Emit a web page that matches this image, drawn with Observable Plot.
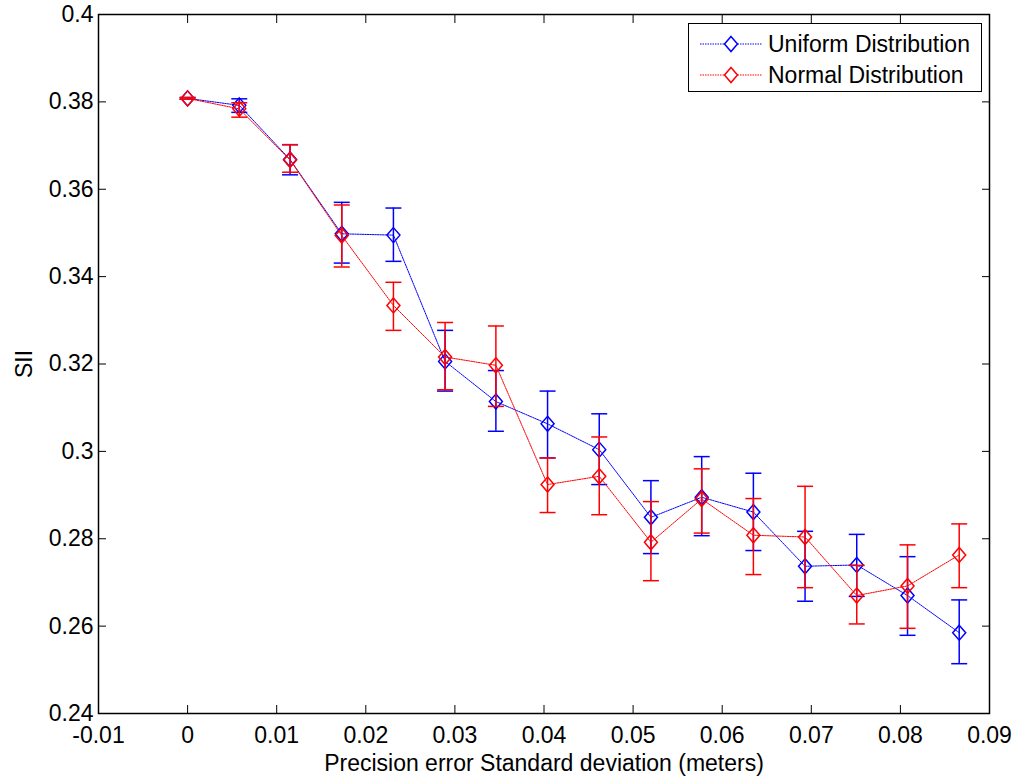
<!DOCTYPE html>
<html>
<head>
<meta charset="utf-8">
<script src="https://cdn.jsdelivr.net/npm/d3@7"></script>
<script src="https://cdn.jsdelivr.net/npm/@observablehq/plot@0.6"></script>
<style>
  html, body { margin: 0; padding: 0; background: #fff; }
  #wrap { position: relative; width: 1019px; height: 778px; }
  #legend {
    position: absolute; left: 688px; top: 23px; width: 292px; height: 67px;
    border: 1.5px solid #000; background: #fff;
    font-family: "Liberation Sans", Arial, Helvetica, sans-serif; font-size: 23px; color: #000;
  }
  #legend .row { position: absolute; left: 11px; height: 30px; display: flex; align-items: center; }
  #legend svg { display: block; margin-right: 6px; }
</style>
</head>
<body>
<div id="wrap"></div>
<script>
// ---- data ----
const xValues = [0, 0.0058, 0.0115, 0.0173, 0.0231, 0.0289, 0.0346, 0.0404, 0.0462, 0.0520, 0.0577, 0.0635, 0.0693, 0.0751, 0.0808, 0.0866];

const uniformMean = [0.3808, 0.3792, 0.3668, 0.3498, 0.3495, 0.3206, 0.3114, 0.3063, 0.3004, 0.2849, 0.2895, 0.2861, 0.2737, 0.2740, 0.2670, 0.2585];
const uniformLow  = [0.3806, 0.3776, 0.3633, 0.3431, 0.3435, 0.3138, 0.3046, 0.2985, 0.2924, 0.2766, 0.2807, 0.2773, 0.2657, 0.2668, 0.2579, 0.2514];
const uniformHigh = [0.3810, 0.3807, 0.3702, 0.3570, 0.3557, 0.3277, 0.3185, 0.3138, 0.3086, 0.2933, 0.2988, 0.2950, 0.2817, 0.2810, 0.2759, 0.2660];

const normalMean = [0.3808, 0.3784, 0.3667, 0.3494, 0.3334, 0.3216, 0.3197, 0.2924, 0.2943, 0.2792, 0.2891, 0.2808, 0.2804, 0.2670, 0.2692, 0.2763];
const normalLow  = [0.3806, 0.3765, 0.3639, 0.3422, 0.3277, 0.3141, 0.3103, 0.2860, 0.2855, 0.2704, 0.2813, 0.2718, 0.2688, 0.2605, 0.2595, 0.2688];
const normalHigh = [0.3810, 0.3798, 0.3702, 0.3564, 0.3387, 0.3295, 0.3287, 0.2985, 0.3033, 0.2885, 0.2960, 0.2892, 0.2920, 0.2739, 0.2786, 0.2834];

const seriesNames = ["Uniform Distribution", "Normal Distribution"];
const seriesColors = ["#0000ff", "#ff0000"];

const xTicks = [-0.01, 0, 0.01, 0.02, 0.03, 0.04, 0.05, 0.06, 0.07, 0.08, 0.09];
const xTickLabels = ["-0.01", "0", "0.01", "0.02", "0.03", "0.04", "0.05", "0.06", "0.07", "0.08", "0.09"];
const yTicks = [0.24, 0.26, 0.28, 0.30, 0.32, 0.34, 0.36, 0.38, 0.40];
const yTickLabels = ["0.24", "0.26", "0.28", "0.3", "0.32", "0.34", "0.36", "0.38", "0.4"];

const xLabel = "Precision error Standard deviation (meters)";
const yLabel = "SII";

// ---- build tables ----
function rows(mean, low, high) {
  return xValues.map((x, i) => ({x, y: mean[i], lo: low[i], hi: high[i]}));
}
const uniform = rows(uniformMean, uniformLow, uniformHigh);
const normal = rows(normalMean, normalLow, normalHigh);

const xLab = new Map(xTicks.map((t, i) => [t, xTickLabels[i]]));
const yLab = new Map(yTicks.map((t, i) => [t, yTickLabels[i]]));

const diamond = {draw(ctx) { ctx.moveTo(0, -7.5); ctx.lineTo(6.5, 0); ctx.lineTo(0, 7.5); ctx.lineTo(-6.5, 0); ctx.closePath(); }};
const cap = {draw(ctx) { ctx.moveTo(-8, 0); ctx.lineTo(8, 0); }};

function seriesMarks(data, color) {
  return [
    Plot.ruleX(data, {x: "x", y1: "lo", y2: "hi", stroke: color, strokeWidth: 1.5}),
    Plot.dot(data, {x: "x", y: "lo", symbol: cap, r: 8, stroke: color, fill: "none", strokeWidth: 1.5}),
    Plot.dot(data, {x: "x", y: "hi", symbol: cap, r: 8, stroke: color, fill: "none", strokeWidth: 1.5}),
    Plot.line(data, {x: "x", y: "y", stroke: color, strokeWidth: 1, strokeDasharray: "1.5,1"}),
    Plot.dot(data, {x: "x", y: "y", symbol: diamond, r: 7, stroke: color, fill: "none", strokeWidth: 1.5})
  ];
}

const fontFamily = '"Liberation Sans", Arial, Helvetica, sans-serif';

const chart = Plot.plot({
  width: 1019,
  height: 778,
  marginLeft: 98,
  marginRight: 30,
  marginTop: 14,
  marginBottom: 65,
  style: {fontFamily, fontSize: "23px", color: "#000", background: "#fff", overflow: "visible"},
  x: {domain: [-0.01, 0.09]},
  y: {domain: [0.24, 0.40]},
  marks: [
    // tick labels and axis titles
    Plot.axisX(xTicks, {anchor: "bottom", tickSize: 0, tickPadding: 13, tickFormat: d => xLab.get(d), fontSize: 23,
      label: xLabel, labelAnchor: "center", labelOffset: 57, labelArrow: "none"}),
    Plot.axisY(yTicks, {anchor: "left", tickSize: 0, tickPadding: 5, tickFormat: d => yLab.get(d), fontSize: 23,
      label: yLabel, labelAnchor: "center", labelOffset: 83, labelArrow: "none"}),
    // inward tick marks on all four sides
    Plot.axisX(xTicks, {anchor: "bottom", tickSize: -8, tickFormat: () => "", label: null}),
    Plot.axisX(xTicks, {anchor: "top", tickSize: -8, tickFormat: () => "", label: null}),
    Plot.axisY(yTicks, {anchor: "left", tickSize: -8, tickFormat: () => "", label: null}),
    Plot.axisY(yTicks, {anchor: "right", tickSize: -8, tickFormat: () => "", label: null}),
    ...seriesMarks(uniform, seriesColors[0]),
    ...seriesMarks(normal, seriesColors[1]),
    Plot.frame({stroke: "#000", strokeWidth: 1.5})
  ]
});

const wrap = document.getElementById("wrap");
wrap.appendChild(chart);

// legend (overlaid inside the plot area, like the reference)
const legend = document.createElement("div");
legend.id = "legend";
seriesNames.forEach((name, i) => {
  const row = document.createElement("div");
  row.className = "row";
  row.style.top = (i === 0 ? 5 : 36) + "px";
  const c = seriesColors[i];
  row.innerHTML =
    `<svg width="62" height="20" viewBox="0 0 62 20">
       <line x1="0" y1="10" x2="62" y2="10" stroke="${c}" stroke-width="1" stroke-dasharray="1.5,1"/>
       <path d="M31,2.5 L37.5,10 L31,17.5 L24.5,10 Z" fill="#fff" stroke="${c}" stroke-width="1.5"/>
     </svg><span>${name}</span>`;
  legend.appendChild(row);
});
wrap.appendChild(legend);
</script>
</body>
</html>
